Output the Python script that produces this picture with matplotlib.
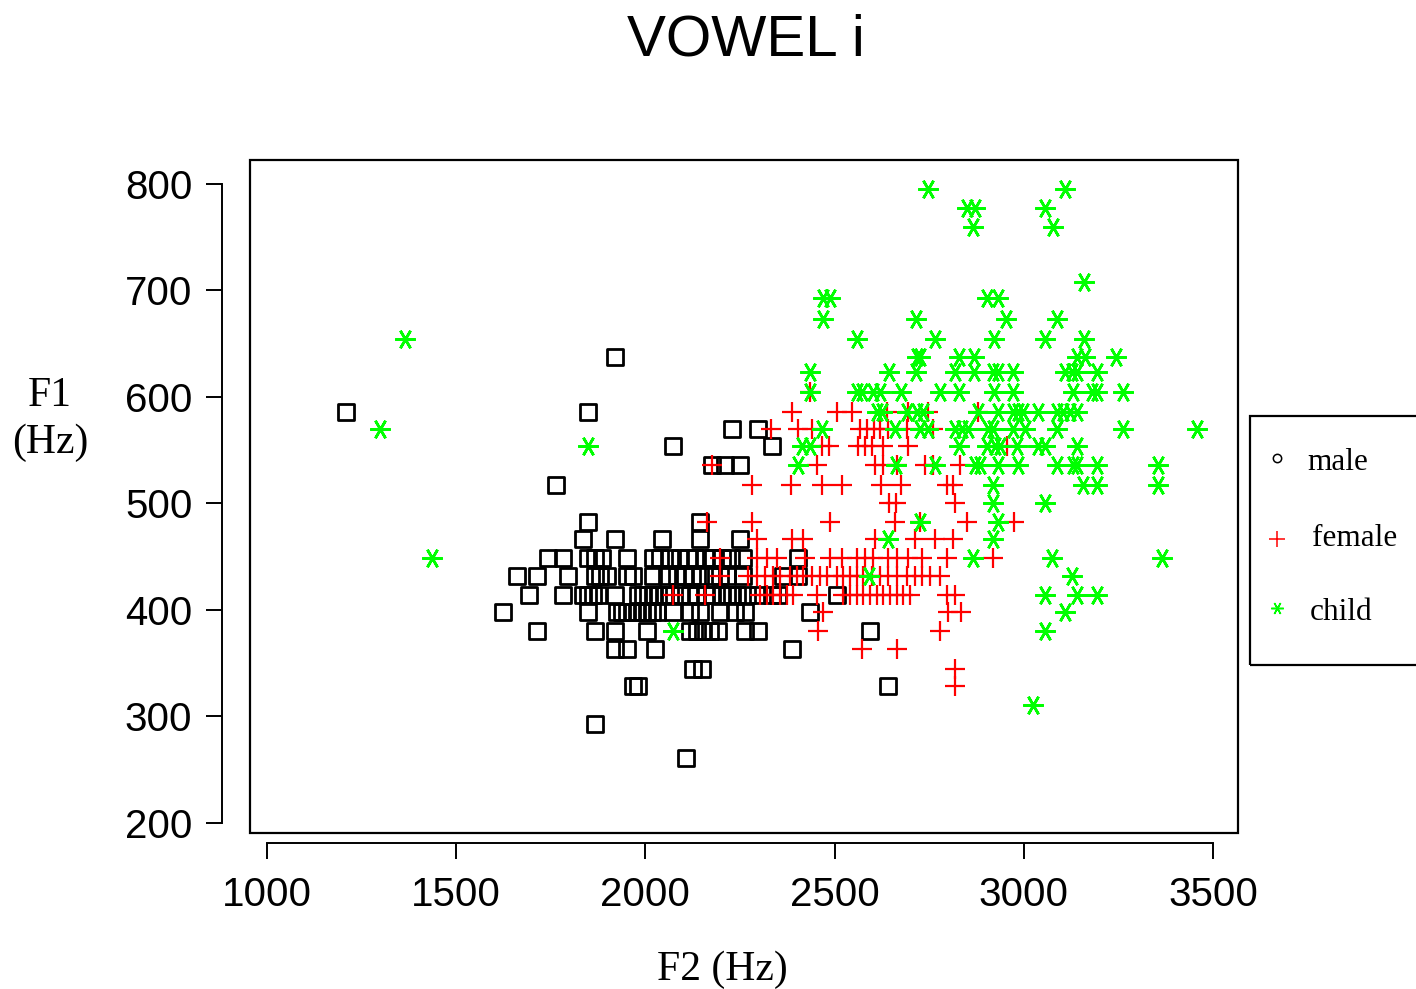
import matplotlib
matplotlib.use("Agg")
import matplotlib.pyplot as plt
from matplotlib.markers import MarkerStyle
from matplotlib.patches import Rectangle
from matplotlib.lines import Line2D

# ---------------- data (F1 rows in Hz, F2 values in Hz) ----------------
male_f1 = [638, 586, 570, 554, 536, 517, 483, 467, 449, 432, 414, 398, 380, 363, 345, 329, 293, 261]
male_f2 = [
    [1920],
    [1209, 1848],
    [2229, 2298],
    [2073, 2335],
    [2176, 2210, 2250],
    [1764],
    [1848, 2144],
    [1835, 1920, 2044, 2144, 2250],
    [1742, 1782, 1848, 1867, 1885, 1952, 2020, 2039, 2065, 2092, 2113, 2131, 2158, 2179, 2202, 2226, 2258, 2403],
    [1661, 1714, 1796, 1867, 1880, 1899, 1952, 1967, 2020, 2057, 2084, 2105, 2123, 2144, 2179, 2197, 2216, 2258, 2364, 2403],
    [1692, 1782, 1835, 1848, 1862, 1875, 1920, 1980, 1994, 2007, 2020, 2033, 2052, 2065, 2092, 2118, 2136, 2158, 2176,
     2202, 2216, 2229, 2242, 2269, 2298, 2335, 2351, 2507],
    [1624, 1848, 1925, 1938, 1952, 1965, 1978, 1991, 2004, 2018, 2031, 2073, 2118, 2144, 2197, 2237, 2263, 2435],
    [1714, 1867, 1920, 2004, 2118, 2136, 2152, 2171, 2192, 2263, 2298, 2594],
    [1920, 1952, 2025, 2388],
    [2126, 2150],
    [1967, 1980, 2641],
    [1867],
    [2107],
]

female_f1 = [605, 586, 570, 554, 536, 517, 500, 483, 467, 449, 432, 414, 398, 380, 363, 345, 329]
female_f2 = [
    [2435],
    [2388, 2507, 2546, 2639, 2694, 2747, 2879],
    [2332, 2403, 2440, 2567, 2586, 2604, 2620, 2641, 2692, 2760],
    [2467, 2485, 2562, 2580, 2599, 2628, 2694, 2956],
    [2176, 2454, 2607, 2628, 2665, 2739, 2760, 2832],
    [2282, 2385, 2467, 2520, 2623, 2676, 2797, 2813],
    [2644, 2662, 2818],
    [2163, 2282, 2488, 2660, 2726, 2850, 2974],
    [2295, 2388, 2417, 2607, 2713, 2766, 2813],
    [2197, 2295, 2322, 2348, 2422, 2488, 2520, 2559, 2580, 2602, 2641, 2665, 2694, 2731, 2797, 2919],
    [2197, 2271, 2295, 2316, 2337, 2356, 2382, 2401, 2417, 2440, 2462, 2480, 2507, 2522, 2541, 2559, 2575, 2599,
     2620, 2641, 2665, 2692, 2713, 2731, 2752, 2779],
    [2073, 2158, 2303, 2322, 2337, 2356, 2374, 2390, 2454, 2522, 2541, 2559, 2575, 2594, 2612, 2628, 2647, 2665,
     2681, 2699, 2797, 2818],
    [2470, 2800, 2834],
    [2456, 2779],
    [2573, 2665],
    [2818],
    [2818],
]

child_f1 = [795, 777, 760, 708, 693, 673, 654, 638, 623, 605, 586, 570, 554, 536, 517, 500, 483, 467, 449, 432,
            414, 398, 380, 311]
child_f2 = [
    [2747, 3109],
    [2850, 2871, 3056],
    [2866, 3077],
    [3159],
    [2470, 2488, 2903, 2932],
    [2470, 2715, 2953, 3088],
    [1365, 2559, 2766, 2921, 3056, 3159],
    [2718, 2726, 2829, 2869, 3141, 3162, 3244],
    [2435, 2644, 2715, 2818, 2869, 2919, 2932, 2972, 3109, 3128, 3141, 3194],
    [2435, 2559, 2573, 2602, 2620, 2676, 2779, 2829, 2921, 2972, 3130, 3180, 3194, 3262],
    [2612, 2625, 2692, 2718, 2734, 2879, 2932, 2972, 2985, 2998, 3038, 3088, 3104, 3122, 3141],
    [1299, 2467, 2660, 2726, 2747, 2818, 2837, 2853, 2906, 2919, 2972, 3003, 3088, 3262, 3458],
    [1848, 2414, 2435, 2829, 2903, 2924, 2937, 2982, 3038, 3056, 3141],
    [2403, 2662, 2766, 2871, 2884, 2932, 2985, 3088, 3130, 3141, 3194, 3355],
    [2919, 3157, 3194, 3355],
    [2919, 3056],
    [2726, 2932],
    [2641, 2919],
    [1436, 2866, 3075, 3365],
    [2591, 3128],
    [3056, 3141, 3194],
    [3109],
    [2073, 3056],
    [3024],
]

group_labels = ["male", "female", "child"]
x_ticks = [1000, 1500, 2000, 2500, 3000, 3500]
y_ticks = [200, 300, 400, 500, 600, 700, 800]


def expand(f1_rows, f2_rows):
    xs, ys = [], []
    for f1, row in zip(f1_rows, f2_rows):
        for f2 in row:
            xs.append(f2)
            ys.append(f1)
    return xs, ys


W, H = 1416, 989
fig = plt.figure(figsize=(W / 100, H / 100), dpi=100)
SANS = ["Liberation Sans", "DejaVu Sans"]
SERIF = ["Liberation Serif", "DejaVu Serif"]

# plot region in pixels
L, R, T, B = 250, 1238, 160, 833
ax = fig.add_axes([L / W, 1 - B / H, (R - L) / W, (B - T) / H])
ax.set_xlim(955, 3566)
ax.set_ylim(190.6, 822.5)

square = MarkerStyle("s", joinstyle="round")
mx, my = expand(male_f1, male_f2)
fx, fy = expand(female_f1, female_f2)
cx, cy = expand(child_f1, child_f2)
ax.plot(mx, my, linestyle="none", marker=square, ms=11.2, mfc="none", mec="black", mew=2.0)
ax.plot(fx, fy, linestyle="none", marker="+", ms=14, mec="#ff0000", mew=1.6)
ax.plot(cx, cy, linestyle="none", marker=(6, 2, 90), ms=14.5, mec="#00ff00", mew=1.9)

# box
for s in ["top", "right"]:
    ax.spines[s].set_visible(False)
ax.add_patch(Rectangle((0, 0), 1, 1, transform=ax.transAxes, fill=False, lw=1.6, ec="black", clip_on=False, zorder=5))

# R-style detached axes
ax.spines["left"].set_position(("outward", 20))
ax.spines["bottom"].set_position(("outward", 7.5))
ax.spines["left"].set_bounds(200, 800)
ax.spines["bottom"].set_bounds(1000, 3500)
ax.spines["left"].set_linewidth(1.4)
ax.spines["bottom"].set_linewidth(1.4)
ax.set_xticks(x_ticks)
ax.set_yticks(y_ticks)
ax.set_xticklabels([str(v) for v in x_ticks], family=SANS, fontsize=29)
ax.set_yticklabels([str(v) for v in y_ticks], family=SANS, fontsize=29)
ax.tick_params(axis="both", direction="out", width=1.4, colors="black")
ax.tick_params(axis="x", length=11.5, pad=12)
ax.tick_params(axis="y", length=11.5, pad=10)

# titles and labels
fig.text(746 / W, 1 - 40 / H, "VOWEL i", ha="center", va="center", family=SANS, fontsize=42)
fig.text(722 / W, 1 - 970 / H, "F2 (Hz)", ha="center", va="center", family=SERIF, fontsize=30)
fig.text(50 / W, 1 - 419 / H, "F1\n(Hz)", ha="center", va="center", family=SERIF, fontsize=30,
         linespacing=1.3)

# legend (drawn manually, R style, clipped at figure edge)
fig.patches.append(Rectangle((1250 / W, 1 - 665 / H), 0.2, (665 - 416) / H, transform=fig.transFigure,
                             fill=False, lw=1.6, ec="black"))
leg_y = [458, 539, 608]
leg_text_x = [1307, 1312, 1310]
leg_text_y = [463, 538, 612]
leg_marker = ["o", "+", (6, 2, 90)]
leg_color = ["black", "#ff0000", "#00ff00"]
leg_ms = [6, 11, 9]
for lab, ly, tx, ty, mk, col, ms in zip(group_labels, leg_y, leg_text_x, leg_text_y, leg_marker, leg_color, leg_ms):
    fig.add_artist(Line2D([1277 / W], [1 - ly / H], transform=fig.transFigure, marker=mk, ms=ms,
                          mfc="none", mec=col, mew=1.1, linestyle="none"))
    fig.text(tx / W, 1 - ty / H, lab, ha="left", va="center", family=SERIF, fontsize=22.5)

fig.savefig("out.png", dpi=100)
